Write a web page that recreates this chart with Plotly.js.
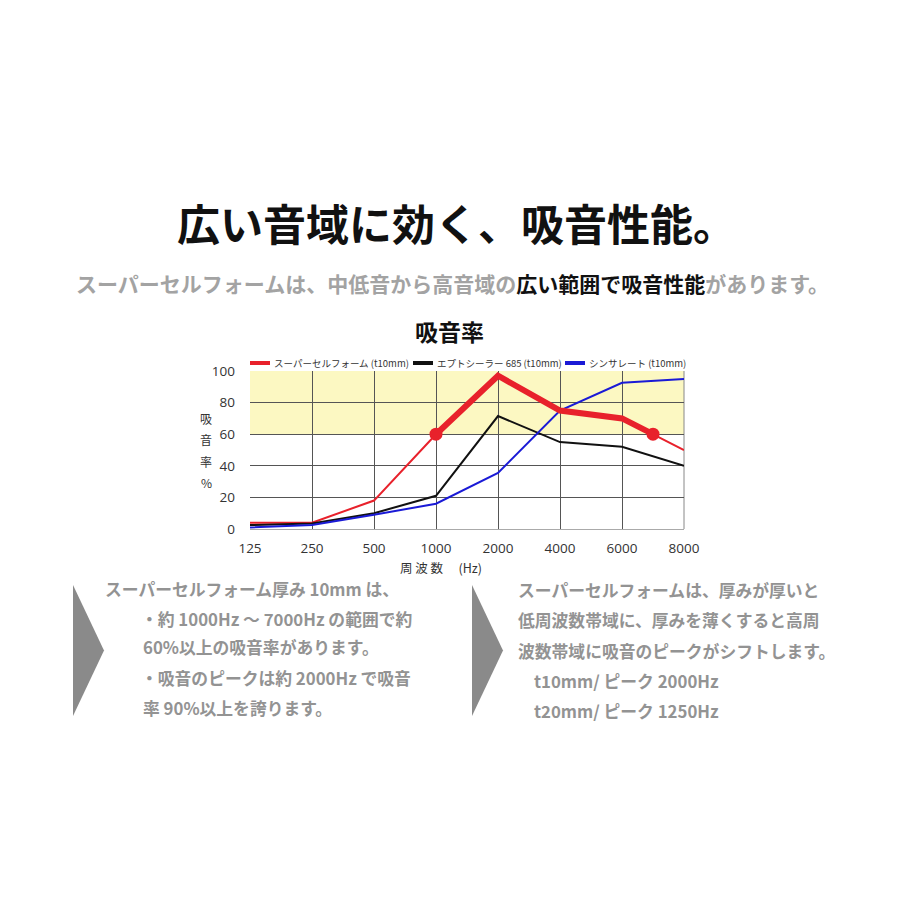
<!DOCTYPE html>
<html>
<head>
<meta charset="utf-8">
<script src="https://cdn.plot.ly/plotly-3.0.1.min.js"></script>
<style>html,body{margin:0;padding:0;background:#fff;}#chart{width:900px;height:900px;}</style>
</head>
<body>
<div id="chart"></div>
<script>
// ---- data ----
const freqLabels = ['125', '250', '500', '1000', '2000', '4000', '6000', '8000'];
const freqIndex = [0, 1, 2, 3, 4, 5, 6, 7];
const superCellX = [0, 1, 2, 3, 4, 5, 6, 6.5, 7];            // 6.5 = approx. 7000Hz
const superCellY = [4, 4, 18, 60, 97, 75, 70, 60, 50];
const superCellPeakX = [3, 4, 5, 6, 6.5];                      // 1000Hz–7000Hz range
const superCellPeakY = [60, 97, 75, 70, 60];
const markerX = [3, 6.5];
const markerY = [60, 60];
const eptY = [2.5, 3.5, 10, 21, 71.5, 55, 52, 40];
const thinsulateY = [1, 2.5, 9, 16, 35.5, 75, 92.5, 95];
const seriesNames = ['スーパーセルフォーム (t10mm)', 'エプトシーラー 685 (t10mm)', 'シンサレート (t10mm)'];
const yTicks = [0, 20, 40, 60, 80, 100];
const yTitleChars = ['吸', '音', '率', '%'];

const RED = '#e8212b', BLACK = '#111111', BLUE = '#1a1ad6';
const seriesColors = [RED, BLACK, BLUE];
const JP = '"Noto Sans CJK JP", "Noto Sans", sans-serif';

const traces = [
  {x: superCellX, y: superCellY, mode: 'lines', line: {color: RED, width: 2}, name: seriesNames[0]},
  {x: freqIndex, y: eptY, mode: 'lines', line: {color: BLACK, width: 2}, name: seriesNames[1]},
  {x: freqIndex, y: thinsulateY, mode: 'lines', line: {color: BLUE, width: 2}, name: seriesNames[2]},
  {x: superCellPeakX, y: superCellPeakY, mode: 'lines', line: {color: RED, width: 6}},
  {x: markerX, y: markerY, mode: 'markers', marker: {color: RED, size: 13}}
];

const W = 900, H = 900;
const px = v => v / W, py = v => 1 - v / H;

function tri(x0, y0, x1, y1) {
  const ym = (y0 + y1) / 2;
  return `M ${px(x0)} ${py(y0)} L ${px(x1)} ${py(ym)} L ${px(x0)} ${py(y1)} Z`;
}

const gray = '#939393';
const BOX = 16.8;
const annotations = [
  {text: '<b>広い音域に効く、吸音性能。</b>', x: px(175), y: py(222), xanchor: 'left', font: {family: JP, size: 43, color: '#111'}},
  {text: '<b>スーパーセルフォームは、中低音から高音域の<span style="color:#111">広い範囲で吸音性能</span>があります。</b>', x: px(452), y: py(283), font: {family: JP, size: 21, color: '#a3a3a3'}},
  {text: '<b>吸音率</b>', x: px(449), y: py(331), font: {family: JP, size: 23, color: '#111'}},
  {text: '周 波 数　 (Hz)', x: px(398), y: py(567), xanchor: 'left', font: {family: JP, size: 12.5, color: '#333'}},
  // left box
  {text: '<b>スーパーセルフォーム厚み 10mm は、</b>', x: px(103), y: py(589), xanchor: 'left', font: {family: JP, size: BOX, color: gray}},
  {text: '<b>・約 1000Hz ～ 7000Hz の範囲で約</b>', x: px(139), y: py(619), xanchor: 'left', font: {family: JP, size: BOX, color: gray}},
  {text: '<b>60%以上の吸音率があります。</b>', x: px(141), y: py(647), xanchor: 'left', font: {family: JP, size: BOX, color: gray}},
  {text: '<b>・吸音のピークは約 2000Hz で吸音</b>', x: px(139), y: py(678), xanchor: 'left', font: {family: JP, size: BOX, color: gray}},
  {text: '<b>率 90%以上を誇ります。</b>', x: px(141), y: py(708), xanchor: 'left', font: {family: JP, size: BOX, color: gray}},
  // right box
  {text: '<b>スーパーセルフォームは、厚みが厚いと</b>', x: px(516), y: py(590), xanchor: 'left', font: {family: JP, size: BOX, color: gray}},
  {text: '<b>低周波数帯域に、厚みを薄くすると高周</b>', x: px(516), y: py(620), xanchor: 'left', font: {family: JP, size: BOX, color: gray}},
  {text: '<b>波数帯域に吸音のピークがシフトします。</b>', x: px(516), y: py(651), xanchor: 'left', font: {family: JP, size: BOX, color: gray}},
  {text: '<b>t10mm/ ピーク 2000Hz</b>', x: px(532), y: py(681), xanchor: 'left', font: {family: JP, size: BOX, color: gray}},
  {text: '<b>t20mm/ ピーク 1250Hz</b>', x: px(532), y: py(711), xanchor: 'left', font: {family: JP, size: BOX, color: gray}}
];
// vertical y-axis title, one character per line
yTitleChars.forEach((c, i) => annotations.push({
  text: c, x: px(206), y: py(418 + i * 21.5), font: {family: JP, size: 12, color: '#333'}
}));

// manual legend (samples as shapes, names as annotations)
const legendX = [250, 413, 565];
const legendShapes = [];
legendX.forEach((lx, i) => {
  legendShapes.push({type: 'line', xref: 'paper', yref: 'paper', x0: px(lx), x1: px(lx + 20),
    y0: py(363), y1: py(363), line: {color: seriesColors[i], width: 4}});
  annotations.push({text: seriesNames[i], x: px(lx + 22), y: py(363), xanchor: 'left',
    font: {family: JP, size: 9.5, color: '#333'}});
});

const finalAnn = annotations.map(a => Object.assign({xref: 'paper', yref: 'paper', showarrow: false, xanchor: 'center', yanchor: 'middle'}, a));

const layout = {
  width: W, height: H,
  margin: {l: 0, r: 0, t: 0, b: 0},
  paper_bgcolor: '#fff', plot_bgcolor: '#fff',
  showlegend: false,
  xaxis: {domain: [px(250), px(684)], range: [0, 7], tickvals: freqIndex, ticktext: freqLabels,
          showgrid: true, gridcolor: '#555', gridwidth: 1, zeroline: false,
          showline: true, linecolor: '#aaa', mirror: false, ticks: '', ticklabelstandoff: 7,
          tickfont: {family: '"Open Sans", "Noto Sans", sans-serif', size: 13.5, color: '#333'},
          automargin: false, fixedrange: true},
  yaxis: {domain: [py(529), py(371)], range: [0, 100], tickvals: yTicks,
          showgrid: true, gridcolor: '#555', gridwidth: 1, zeroline: false,
          showline: false, ticks: '', ticklabelstandoff: 14,
          tickfont: {family: '"Open Sans", "Noto Sans", sans-serif', size: 13.5, color: '#333'},
          automargin: false, fixedrange: true},
  shapes: [
    {type: 'rect', xref: 'paper', yref: 'y', x0: px(250), x1: px(684), y0: 60, y1: 100,
     fillcolor: '#fcf8c2', line: {width: 0}, layer: 'below'},
    {type: 'line', xref: 'paper', yref: 'paper', x0: px(684), x1: px(684), y0: py(529), y1: py(371),
     line: {color: '#888', width: 1}, layer: 'below'},
    {type: 'path', xref: 'paper', yref: 'paper', path: tri(73, 585, 104, 716), fillcolor: '#8a8a8a', line: {width: 0}},
    {type: 'path', xref: 'paper', yref: 'paper', path: tri(472, 585, 503, 716), fillcolor: '#8a8a8a', line: {width: 0}}
  ].concat(legendShapes),
  annotations: finalAnn
};

Plotly.newPlot('chart', traces, layout, {displayModeBar: false, staticPlot: true});
</script>
</body>
</html>
